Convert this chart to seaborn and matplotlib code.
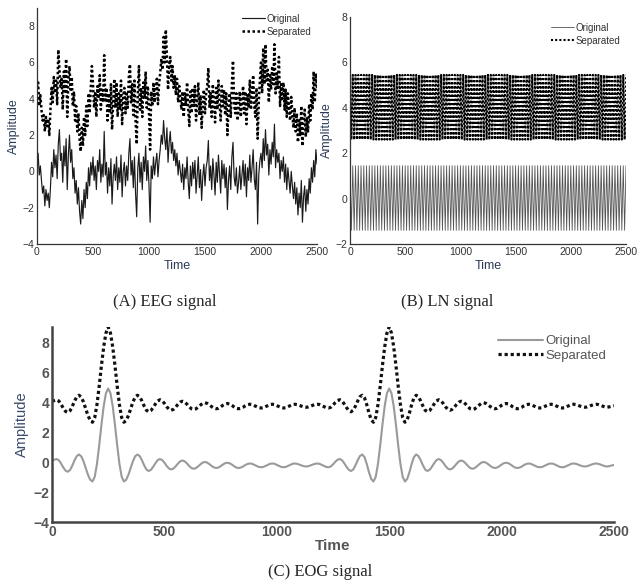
import numpy as np
import pandas as pd
import matplotlib
matplotlib.use("Agg")
import matplotlib.pyplot as plt
import seaborn as sns

# ---------------- data ----------------
# (A) EEG, one value every 10 samples, t = 0..2500
EEG_STEP = 10
EEG_ORIG = [
    0.5, 1.0, -0.2, 0.3, -0.5, -1.2, -0.8, -1.9, -1.0, -1.6,
    -1.2, -2.0, -0.9, 0.5, -0.3, 1.2, 0.2, 0.9, -0.4, 1.5,
    2.3, 0.6, 1.0, -0.6, 1.4, 0.3, 1.8, -1.0, 0.9, 2.0,
    0.5, 1.2, -0.4, 0.2, -1.2, -0.5, -1.8, -0.9, -2.2, -2.9,
    -1.6, -2.6, -1.0, -2.0, -0.6, -1.5, 0.2, -0.8, 0.5, -0.2,
    0.8, -0.5, 0.3, -1.0, 0.6, 0.0, 1.2, -0.6, 0.4, -0.3,
    2.2, -0.2, 0.5, -1.2, 0.2, -0.8, 0.7, -1.8, -0.3, 0.4,
    -0.5, 0.8, -1.0, 0.2, -0.6, 0.9, -1.4, 0.0, 0.5, -0.8,
    0.3, -0.5, 1.0, 1.8, -0.2, 0.6, -0.9, 0.8, -1.2, -2.5,
    0.2, 1.0, -0.6, 0.5, -1.0, 0.8, 0.0, 1.4, -0.5, 0.6,
    -0.8, -2.8, 0.3, -0.4, 0.8, -0.2, 0.5, 1.0, -0.3, 0.6,
    1.2, 2.0, 1.5, 2.8, 1.8, 1.2, 2.4, 0.5, 1.6, 2.2,
    1.0, 1.6, 0.6, 1.2, 0.3, 1.0, -0.2, 0.6, 0.0, -0.6,
    0.4, -1.0, 0.2, -0.4, 0.8, -0.6, -1.5, 0.3, -0.8, 0.5,
    -0.4, 0.6, -1.2, -0.2, 0.8, -0.9, 0.1, -1.6, -0.3, 0.4,
    -0.8, 0.2, 0.6, 1.7, -0.5, 0.3, -1.0, 0.7, -0.2, -1.3,
    0.5, -0.6, 0.9, -0.2, -1.2, 0.6, -0.4, 0.4, -0.9, 0.2,
    -2.1, -0.5, 0.3, -1.0, 0.8, 1.6, -0.3, -0.8, 0.2, -1.2,
    -0.6, 0.3, -1.0, -0.2, 0.6, -0.8, 0.4, -1.4, 0.2, -0.5,
    0.9, -0.6, 0.2, 1.2, -0.4, -1.0, 0.5, -2.9, -0.2, 0.6,
    1.0, 0.2, 1.8, 0.6, 2.3, 0.9, 1.5, -0.2, 1.2, 0.4,
    1.6, 0.8, 2.6, 0.2, 1.2, 0.5, 1.0, -0.4, 0.6, 0.0,
    0.8, -0.6, 0.4, -1.0, 0.2, -0.5, -1.2, 0.0, -0.8, -1.5,
    -0.6, -1.8, -0.9, -2.4, -1.2, -2.0, -0.5, -2.8, -1.4, -0.8,
    -2.2, -1.0, -1.8, -0.4, -1.2, 0.2, -0.6, 0.6, -0.3, 1.2,
    0.4,
]
EEG_SEP = [
    4.6, 4.9, 3.6, 4.2, 3.4, 2.8, 3.1, 2.2, 3.0, 2.5,
    2.9, 2.0, 3.4, 4.6, 3.8, 5.2, 4.3, 5.0, 3.7, 6.7,
    5.6, 4.6, 5.1, 3.4, 5.5, 4.4, 6.2, 3.0, 5.0, 5.8,
    4.5, 5.2, 3.6, 4.4, 2.8, 3.6, 2.2, 3.2, 1.8, 1.1,
    2.4, 1.4, 3.0, 2.0, 3.6, 2.5, 4.3, 3.2, 4.6, 5.8,
    4.8, 3.5, 4.4, 3.0, 4.7, 4.0, 5.3, 3.4, 4.5, 3.8,
    6.4, 3.8, 4.6, 2.8, 4.3, 3.2, 4.8, 2.3, 3.7, 5.1,
    3.5, 4.9, 3.0, 4.3, 3.4, 5.0, 2.6, 4.1, 4.6, 3.2,
    4.4, 3.5, 5.2, 5.9, 3.8, 4.8, 3.1, 5.0, 2.8, 1.5,
    4.3, 5.8, 3.4, 4.6, 3.0, 4.9, 4.0, 5.5, 3.5, 4.7,
    3.2, 1.2, 4.4, 3.6, 4.9, 3.8, 4.6, 5.1, 3.7, 4.8,
    5.4, 6.2, 5.6, 7.4, 6.0, 7.8, 6.4, 4.5, 5.8, 6.3,
    5.0, 5.8, 4.6, 5.3, 4.2, 5.1, 3.8, 4.7, 4.0, 3.4,
    4.4, 3.0, 4.3, 3.6, 4.9, 3.4, 2.5, 4.4, 3.2, 4.6,
    3.6, 4.7, 2.8, 3.8, 4.9, 3.1, 4.2, 2.4, 3.7, 4.5,
    3.2, 4.3, 4.7, 5.7, 3.5, 4.3, 3.0, 4.8, 3.8, 2.7,
    4.6, 3.4, 5.0, 3.8, 2.8, 4.7, 3.6, 4.5, 3.1, 4.3,
    2.0, 3.5, 4.3, 3.0, 4.8, 6.1, 3.7, 3.2, 4.3, 2.8,
    3.4, 4.4, 3.0, 3.8, 4.7, 3.2, 4.4, 2.6, 4.2, 3.5,
    5.0, 3.4, 4.3, 5.3, 3.6, 3.0, 4.6, 1.8, 3.8, 5.0,
    6.0, 4.3, 6.8, 4.8, 7.0, 5.0, 5.6, 3.8, 5.4, 4.5,
    5.8, 4.8, 7.0, 4.3, 5.4, 4.6, 6.3, 3.6, 4.8, 4.0,
    4.9, 3.4, 4.5, 3.0, 4.3, 3.5, 2.8, 4.1, 3.2, 2.4,
    3.5, 2.2, 3.2, 1.6, 2.8, 2.0, 3.6, 1.4, 2.7, 3.4,
    1.9, 3.0, 2.2, 3.7, 2.8, 4.3, 3.4, 5.5, 3.8, 5.4,
    4.6,
]

# (B) LN, peaks and troughs, one value every 12.5 samples
LN_STEP = 12.5
LN_ORIG = [
    1.45, -1.40, 1.45, -1.40, 1.45, -1.40, 1.45, -1.40, 1.45, -1.40, 1.45, -1.40, 1.45, -1.40, 1.45, -1.40, 1.45, -1.40, 1.45, -1.40,
    1.45, -1.40, 1.45, -1.40, 1.45, -1.40, 1.45, -1.40, 1.45, -1.40, 1.45, -1.40, 1.45, -1.40, 1.45, -1.40, 1.45, -1.40, 1.45, -1.40,
    1.45, -1.40, 1.45, -1.40, 1.45, -1.40, 1.45, -1.40, 1.45, -1.40, 1.45, -1.40, 1.45, -1.40, 1.45, -1.40, 1.45, -1.40, 1.45, -1.40,
    1.45, -1.40, 1.45, -1.40, 1.45, -1.40, 1.45, -1.40, 1.45, -1.40, 1.45, -1.40, 1.45, -1.40, 1.45, -1.40, 1.45, -1.40, 1.45, -1.40,
    1.45, -1.40, 1.45, -1.40, 1.45, -1.40, 1.45, -1.40, 1.45, -1.40, 1.45, -1.40, 1.45, -1.40, 1.45, -1.40, 1.45, -1.40, 1.45, -1.40,
    1.45, -1.40, 1.45, -1.40, 1.45, -1.40, 1.45, -1.40, 1.45, -1.40, 1.45, -1.40, 1.45, -1.40, 1.45, -1.40, 1.45, -1.40, 1.45, -1.40,
    1.45, -1.40, 1.45, -1.40, 1.45, -1.40, 1.45, -1.40, 1.45, -1.40, 1.45, -1.40, 1.45, -1.40, 1.45, -1.40, 1.45, -1.40, 1.45, -1.40,
    1.45, -1.40, 1.45, -1.40, 1.45, -1.40, 1.45, -1.40, 1.45, -1.40, 1.45, -1.40, 1.45, -1.40, 1.45, -1.40, 1.45, -1.40, 1.45, -1.40,
    1.45, -1.40, 1.45, -1.40, 1.45, -1.40, 1.45, -1.40, 1.45, -1.40, 1.45, -1.40, 1.45, -1.40, 1.45, -1.40, 1.45, -1.40, 1.45, -1.40,
    1.45, -1.40, 1.45, -1.40, 1.45, -1.40, 1.45, -1.40, 1.45, -1.40, 1.45, -1.40, 1.45, -1.40, 1.45, -1.40, 1.45, -1.40, 1.45, -1.40,
    1.45,
]
LN_SEP = [
    5.45, 2.60, 5.45, 2.60, 5.45, 2.60, 5.45, 2.60, 5.45, 2.60, 5.45, 2.60, 5.45, 2.60, 5.45, 2.60, 5.45, 2.60, 5.45, 2.60,
    5.45, 2.60, 5.45, 2.60, 5.45, 2.60, 5.45, 2.60, 5.45, 2.60, 5.45, 2.60, 5.45, 2.60, 5.45, 2.60, 5.45, 2.60, 5.45, 2.60,
    5.45, 2.60, 5.45, 2.60, 5.45, 2.60, 5.45, 2.60, 5.45, 2.60, 5.45, 2.60, 5.45, 2.60, 5.45, 2.60, 5.45, 2.60, 5.45, 2.60,
    5.45, 2.60, 5.45, 2.60, 5.45, 2.60, 5.45, 2.60, 5.45, 2.60, 5.45, 2.60, 5.45, 2.60, 5.45, 2.60, 5.45, 2.60, 5.45, 2.60,
    5.45, 2.60, 5.45, 2.60, 5.45, 2.60, 5.45, 2.60, 5.45, 2.60, 5.45, 2.60, 5.45, 2.60, 5.45, 2.60, 5.45, 2.60, 5.45, 2.60,
    5.45, 2.60, 5.45, 2.60, 5.45, 2.60, 5.45, 2.60, 5.45, 2.60, 5.45, 2.60, 5.45, 2.60, 5.45, 2.60, 5.45, 2.60, 5.45, 2.60,
    5.45, 2.60, 5.45, 2.60, 5.45, 2.60, 5.45, 2.60, 5.45, 2.60, 5.45, 2.60, 5.45, 2.60, 5.45, 2.60, 5.45, 2.60, 5.45, 2.60,
    5.45, 2.60, 5.45, 2.60, 5.45, 2.60, 5.45, 2.60, 5.45, 2.60, 5.45, 2.60, 5.45, 2.60, 5.45, 2.60, 5.45, 2.60, 5.45, 2.60,
    5.45, 2.60, 5.45, 2.60, 5.45, 2.60, 5.45, 2.60, 5.45, 2.60, 5.45, 2.60, 5.45, 2.60, 5.45, 2.60, 5.45, 2.60, 5.45, 2.60,
    5.45, 2.60, 5.45, 2.60, 5.45, 2.60, 5.45, 2.60, 5.45, 2.60, 5.45, 2.60, 5.45, 2.60, 5.45, 2.60, 5.45, 2.60, 5.45, 2.60,
    5.45,
]

# (C) EOG, one value every 10 samples, t = 0..2500
EOG_STEP = 10
EOG_ORIG = [
    0.10, 0.15, 0.20, 0.12, -0.09, -0.36, -0.57, -0.65, -0.54, -0.25,
    0.10, 0.39, 0.50, 0.38, 0.05, -0.40, -0.85, -1.18, -1.30, -0.99,
    -0.13, 1.11, 2.49, 3.73, 4.59, 4.90, 4.59, 3.73, 2.49, 1.11,
    -0.13, -0.99, -1.30, -1.18, -0.85, -0.40, 0.05, 0.38, 0.50, 0.40,
    0.12, -0.22, -0.50, -0.60, -0.52, -0.32, -0.08, 0.12, 0.20, 0.13,
    -0.04, -0.26, -0.43, -0.50, -0.44, -0.29, -0.11, 0.04, 0.10, 0.05,
    -0.09, -0.26, -0.40, -0.45, -0.41, -0.29, -0.16, -0.04, 0.00, -0.04,
    -0.14, -0.26, -0.36, -0.40, -0.37, -0.28, -0.17, -0.08, -0.05, -0.08,
    -0.17, -0.28, -0.37, -0.40, -0.37, -0.30, -0.20, -0.13, -0.10, -0.12,
    -0.19, -0.26, -0.33, -0.35, -0.33, -0.26, -0.19, -0.12, -0.10, -0.12,
    -0.19, -0.26, -0.33, -0.35, -0.33, -0.26, -0.19, -0.12, -0.10, -0.12,
    -0.17, -0.23, -0.28, -0.30, -0.28, -0.23, -0.17, -0.12, -0.10, -0.12,
    -0.19, -0.26, -0.33, -0.35, -0.30, -0.16, 0.01, 0.15, 0.20, 0.12,
    -0.08, -0.32, -0.52, -0.60, -0.50, -0.22, 0.12, 0.40, 0.50, 0.33,
    -0.12, -0.68, -1.13, -1.30, -0.99, -0.13, 1.11, 2.49, 3.73, 4.59,
    4.90, 4.59, 3.73, 2.49, 1.11, -0.13, -0.99, -1.30, -1.13, -0.68,
    -0.12, 0.33, 0.50, 0.40, 0.12, -0.22, -0.50, -0.60, -0.52, -0.32,
    -0.08, 0.12, 0.20, 0.13, -0.04, -0.26, -0.43, -0.50, -0.44, -0.29,
    -0.11, 0.04, 0.10, 0.05, -0.09, -0.26, -0.40, -0.45, -0.41, -0.29,
    -0.16, -0.04, 0.00, -0.04, -0.14, -0.26, -0.36, -0.40, -0.37, -0.28,
    -0.17, -0.08, -0.05, -0.08, -0.17, -0.28, -0.37, -0.40, -0.37, -0.30,
    -0.20, -0.13, -0.10, -0.12, -0.19, -0.26, -0.33, -0.35, -0.33, -0.26,
    -0.19, -0.12, -0.10, -0.12, -0.19, -0.26, -0.33, -0.35, -0.33, -0.26,
    -0.19, -0.12, -0.10, -0.12, -0.17, -0.23, -0.28, -0.30, -0.28, -0.23,
    -0.17, -0.12, -0.10, -0.12, -0.17, -0.23, -0.28, -0.30, -0.27, -0.23,
    -0.20,
]
EOG_SEP = [
    4.05, 4.10, 4.15, 4.07, 3.86, 3.59, 3.38, 3.30, 3.41, 3.70,
    4.05, 4.34, 4.45, 4.33, 4.00, 3.55, 3.10, 2.77, 2.65, 2.96,
    3.82, 5.06, 6.44, 7.68, 8.60, 9.00, 8.60, 7.68, 6.44, 5.06,
    3.82, 2.96, 2.65, 2.77, 3.10, 3.55, 4.00, 4.33, 4.45, 4.35,
    4.07, 3.73, 3.45, 3.35, 3.43, 3.63, 3.87, 4.07, 4.15, 4.08,
    3.91, 3.69, 3.52, 3.45, 3.51, 3.66, 3.84, 3.99, 4.05, 4.00,
    3.86, 3.69, 3.55, 3.50, 3.54, 3.66, 3.79, 3.91, 3.95, 3.91,
    3.81, 3.69, 3.59, 3.55, 3.58, 3.67, 3.78, 3.87, 3.90, 3.87,
    3.78, 3.67, 3.58, 3.55, 3.58, 3.65, 3.75, 3.82, 3.85, 3.83,
    3.76, 3.69, 3.62, 3.60, 3.62, 3.69, 3.76, 3.83, 3.85, 3.83,
    3.76, 3.69, 3.62, 3.60, 3.62, 3.69, 3.76, 3.83, 3.85, 3.83,
    3.78, 3.72, 3.67, 3.65, 3.67, 3.72, 3.78, 3.83, 3.85, 3.83,
    3.76, 3.69, 3.62, 3.60, 3.65, 3.79, 3.96, 4.10, 4.15, 4.07,
    3.87, 3.63, 3.43, 3.35, 3.45, 3.73, 4.07, 4.35, 4.45, 4.28,
    3.83, 3.27, 2.82, 2.65, 2.96, 3.82, 5.06, 6.44, 7.68, 8.60,
    9.00, 8.60, 7.68, 6.44, 5.06, 3.82, 2.96, 2.65, 2.82, 3.27,
    3.83, 4.28, 4.45, 4.35, 4.07, 3.73, 3.45, 3.35, 3.43, 3.63,
    3.87, 4.07, 4.15, 4.08, 3.91, 3.69, 3.52, 3.45, 3.51, 3.66,
    3.84, 3.99, 4.05, 4.00, 3.86, 3.69, 3.55, 3.50, 3.54, 3.66,
    3.79, 3.91, 3.95, 3.91, 3.81, 3.69, 3.59, 3.55, 3.58, 3.67,
    3.78, 3.87, 3.90, 3.87, 3.78, 3.67, 3.58, 3.55, 3.58, 3.65,
    3.75, 3.82, 3.85, 3.83, 3.76, 3.69, 3.62, 3.60, 3.62, 3.69,
    3.76, 3.83, 3.85, 3.83, 3.76, 3.69, 3.62, 3.60, 3.62, 3.69,
    3.76, 3.83, 3.85, 3.83, 3.78, 3.72, 3.67, 3.65, 3.67, 3.72,
    3.78, 3.83, 3.85, 3.83, 3.78, 3.72, 3.67, 3.65, 3.68, 3.72,
    3.75,
]

X_TICKS = [0, 500, 1000, 1500, 2000, 2500]
SERIES = ["Original", "Separated"]
CAPTIONS = ["(A) EEG signal", "(B) LN signal", "(C) EOG signal"]

# ---------------- style ----------------
sns.set_theme(style="white")
plt.rcParams["font.family"] = ["Liberation Sans", "DejaVu Sans"]

W, H = 638, 584
fig = plt.figure(figsize=(W / 100, H / 100), dpi=100)


def box(l, t, r, b):
    return [l / W, 1 - b / H, (r - l) / W, (b - t) / H]


axA = fig.add_axes(box(37, 8, 317, 244))
axB = fig.add_axes(box(350, 17, 626, 244))
axC = fig.add_axes(box(52, 327, 614, 522))

narrow = ["Liberation Sans Narrow", "Liberation Sans", "DejaVu Sans"]
lab_col = "#2b3a58"


def series_time(vals, step):
    return np.arange(len(vals)) * step


# ---- (A) EEG
sns.lineplot(x=series_time(EEG_ORIG, EEG_STEP), y=EEG_ORIG, ax=axA, color="#1a1a1a",
             lw=0.85, label=SERIES[0], errorbar=None, sort=False)
sns.lineplot(x=series_time(EEG_SEP, EEG_STEP), y=EEG_SEP, ax=axA, color="black",
             lw=1.8, linestyle=(0, (1, 1)), label=SERIES[1], errorbar=None, sort=False)
axA.set_ylim(-4, 9)
axA.set_yticks([-4, -2, 0, 2, 4, 6, 8])

# ---- (B) LN
sns.lineplot(x=series_time(LN_ORIG, LN_STEP), y=LN_ORIG, ax=axB, color="#555555",
             lw=0.6, label=SERIES[0], errorbar=None, sort=False)
sns.lineplot(x=series_time(LN_SEP, LN_STEP), y=LN_SEP, ax=axB, color="black",
             lw=1.5, linestyle=(0, (1, 1)), label=SERIES[1], errorbar=None, sort=False)
axB.set_ylim(-2, 8)
axB.set_yticks([-2, 0, 2, 4, 6, 8])

for ax in (axA, axB):
    ax.set_xlim(0, 2500)
    ax.set_xticks(X_TICKS)
    for s in ("top", "right"):
        ax.spines[s].set_visible(False)
    for s in ("left", "bottom"):
        ax.spines[s].set_color("#333333")
        ax.spines[s].set_linewidth(0.9)
    ax.tick_params(direction="in", length=3, width=0.7, colors="#333333",
                   labelsize=7.5, pad=2)
    for lbl in ax.get_xticklabels() + ax.get_yticklabels():
        lbl.set_family(narrow)
    ax.set_xlabel("Time", fontsize=9, color=lab_col, family=narrow, labelpad=2)
    ax.set_ylabel("Amplitude", fontsize=9, color=lab_col, family=narrow, labelpad=2)
    leg = ax.legend(loc="upper right", frameon=False,
                    handlelength=2.4, handletextpad=0.1, labelspacing=0.3,
                    borderaxespad=0.2, prop={"family": narrow, "size": 7})
    for txt in leg.get_texts():
        txt.set_color("#333333")

# ---- (C) EOG
sns.lineplot(x=series_time(EOG_ORIG, EOG_STEP), y=EOG_ORIG, ax=axC, color="#9a9a9a",
             lw=1.5, label=SERIES[0], errorbar=None, sort=False)
sns.lineplot(x=series_time(EOG_SEP, EOG_STEP), y=EOG_SEP, ax=axC, color="#111111",
             lw=2.3, linestyle=(0, (1, 0.9)), label=SERIES[1], errorbar=None, sort=False)
axC.set_xlim(0, 2500)
axC.set_ylim(-4, 9)
axC.set_xticks(X_TICKS)
axC.set_yticks([-4, -2, 0, 2, 4, 6, 8])
for s in ("top", "right"):
    axC.spines[s].set_visible(False)
for s in ("left", "bottom"):
    axC.spines[s].set_color("#444444")
    axC.spines[s].set_linewidth(1.8)
axC.tick_params(direction="in", length=4, width=0.8, colors="#555555",
                labelsize=10, pad=2)
for lbl in axC.get_xticklabels() + axC.get_yticklabels():
    lbl.set_fontweight("bold")
axC.set_xlabel("Time", fontsize=11, fontweight="bold", color="#555555", labelpad=0)
axC.set_ylabel("Amplitude", fontsize=10.5, color="#3a4a6a", labelpad=3)
legC = axC.legend(loc="upper right", frameon=False, fontsize=9.5,
                  handlelength=3.4, handletextpad=0.2, labelspacing=0.2,
                  borderaxespad=0.2)
for txt in legC.get_texts():
    txt.set_color("#555555")

# ---- captions
cap_font = ["Liberation Serif", "DejaVu Serif"]
fig.text(165 / W, 1 - 302 / H, CAPTIONS[0], ha="center", va="center",
         fontsize=12, family=cap_font)
fig.text(447 / W, 1 - 302 / H, CAPTIONS[1], ha="center", va="center",
         fontsize=12, family=cap_font)
fig.text(320 / W, 1 - 572 / H, CAPTIONS[2], ha="center", va="center",
         fontsize=12, family=cap_font)

fig.savefig("out.png", dpi=100, facecolor="white")
